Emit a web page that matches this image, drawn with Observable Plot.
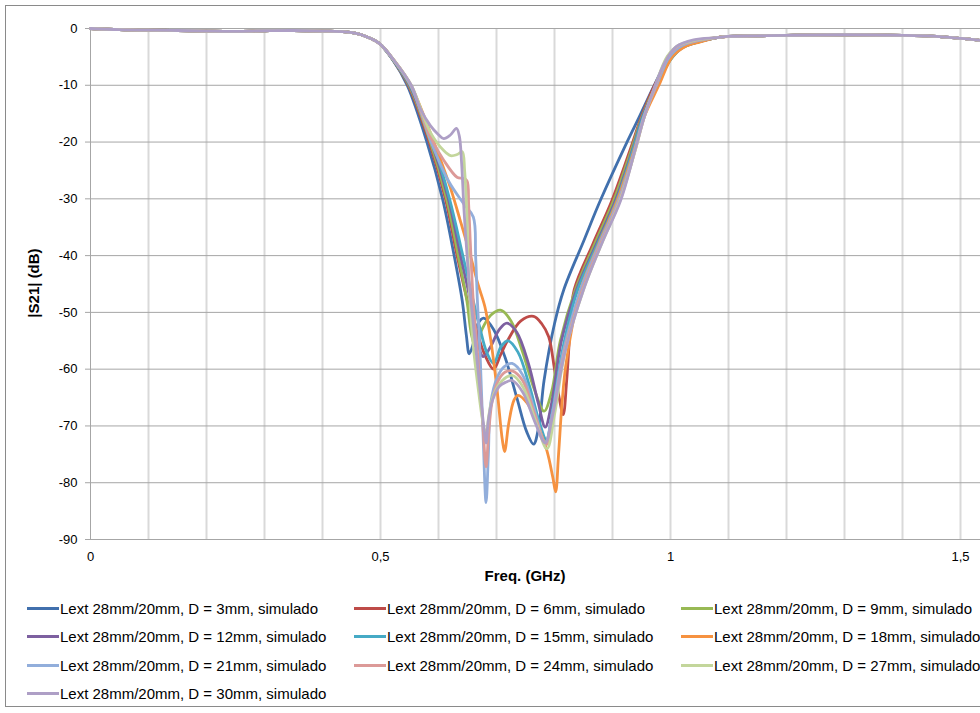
<!DOCTYPE html>
<html>
<head>
<meta charset="utf-8">
<script src="https://cdn.jsdelivr.net/npm/d3@7"></script>
<script src="https://cdn.jsdelivr.net/npm/@observablehq/plot@0.6"></script>
<style>
  html, body { margin: 0; padding: 0; background: #fff; }
  #wrap { position: relative; width: 980px; height: 713px; overflow: hidden; background: #fff;
          font-family: "Liberation Sans", Arial, sans-serif; color: #000; }
  #frame { position: absolute; left: 5px; top: 5px; width: 1200px; height: 702px; border: 1px solid #8a8a8a; box-sizing: border-box; }
  #chart { position: absolute; left: 0; top: 0; }
  .title { position: absolute; font-weight: bold; font-size: 15px; white-space: nowrap; }
  #xtitle { left: 525px; top: 575px; transform: translate(-50%, -50%); }
  #ytitle { left: 33px; top: 283px; transform: translate(-50%, -50%) rotate(-90deg); }
  #legend { position: absolute; left: 27px; top: 594px; display: grid; grid-template-columns: 327px 327px 327px; grid-auto-rows: 28.5px; }
  .item { display: flex; align-items: center; font-size: 15px; white-space: nowrap; }
  .sw { width: 32px; height: 3px; margin-right: 1px; flex: none; }
</style>
</head>
<body>
<div id="wrap">
  <div id="frame"></div>
  <div id="chart"></div>
  <div id="xtitle" class="title">Freq. (GHz)</div>
  <div id="ytitle" class="title">|S21| (dB)</div>
  <div id="legend"></div>
</div>
<script>
// ---- Data ----
const seriesNames = [
  "Lext 28mm/20mm, D = 3mm, simulado",
  "Lext 28mm/20mm, D = 6mm, simulado",
  "Lext 28mm/20mm, D = 9mm, simulado",
  "Lext 28mm/20mm, D = 12mm, simulado",
  "Lext 28mm/20mm, D = 15mm, simulado",
  "Lext 28mm/20mm, D = 18mm, simulado",
  "Lext 28mm/20mm, D = 21mm, simulado",
  "Lext 28mm/20mm, D = 24mm, simulado",
  "Lext 28mm/20mm, D = 27mm, simulado",
  "Lext 28mm/20mm, D = 30mm, simulado"
];
const seriesColors = ["#4170AD", "#BE4B48", "#98B954", "#7D60A0", "#46AAC5", "#F69240",
                      "#92AEDB", "#DC9A98", "#C3D69B", "#AE9FC6"];

const xTickValues = [0, 0.5, 1, 1.5];
const xGridValues = [0.1, 0.2, 0.3, 0.4, 0.5, 0.6, 0.7, 0.8, 0.9, 1.0, 1.1, 1.2, 1.3, 1.4, 1.5];
const yTickValues = [0, -10, -20, -30, -40, -50, -60, -70, -80, -90];
const xDomain = [0, 1.5345];
const yDomain = [-90, 0];

// common pass band below the notch (all series overlap)
const lowF  = [0, 0.05, 0.1, 0.15, 0.2, 0.25, 0.3, 0.35, 0.4, 0.44, 0.46, 0.475, 0.49];
const lowDb = [0, -0.2, -0.3, -0.35, -0.45, -0.5, -0.4, -0.35, -0.45, -0.6, -0.9, -1.4, -2.1];
// common pass band above the notch
const highF  = [1.08, 1.1, 1.15, 1.2, 1.3, 1.4, 1.45, 1.5, 1.535];
const highDb = [-1.6, -1.4, -1.3, -1.2, -1.1, -1.2, -1.35, -1.75, -2.1];

// notch region, per series
const fD3  = [0.5, 0.52, 0.546, 0.58, 0.607, 0.627, 0.641, 0.648, 0.653, 0.66, 0.668, 0.678, 0.695, 0.715, 0.735, 0.752, 0.764, 0.773, 0.782, 0.8, 0.816, 0.85, 0.879, 0.925, 0.946, 0.972, 0.998, 1.02, 1.05];
const dbD3 = [-2.8, -5.3, -10, -20, -30, -40, -48, -54, -57.3, -55.5, -52, -51, -53, -58, -65, -71, -73.2, -70, -62, -52, -46, -37.5, -30.3, -20, -15.6, -10, -5, -3.2, -2.2];

const fD6  = [0.5, 0.52, 0.548, 0.584, 0.612, 0.632, 0.65, 0.665, 0.68, 0.695, 0.707, 0.72, 0.742, 0.764, 0.778, 0.79, 0.8, 0.808, 0.815, 0.821, 0.827, 0.834, 0.866, 0.899, 0.93, 0.95, 0.975, 1.0, 1.02, 1.05];
const dbD6 = [-2.8, -5.3, -10, -20, -30, -40, -48, -53, -57.5, -60, -57.5, -54.8, -51.5, -50.7, -52, -54.3, -60, -65, -68, -62, -53, -46, -38, -30.3, -21.5, -15.5, -9.5, -5.3, -3.4, -2.3];

const fD9  = [0.5, 0.52, 0.549, 0.586, 0.614, 0.634, 0.649, 0.657, 0.664, 0.675, 0.69, 0.707, 0.725, 0.745, 0.765, 0.782, 0.795, 0.81, 0.836, 0.869, 0.902, 0.932, 0.951, 0.976, 1.0, 1.02, 1.05];
const dbD9 = [-2.8, -5.3, -10, -20, -30, -40, -48, -54, -56, -53, -50.5, -49.6, -51.5, -57, -63.5, -67.4, -64, -55, -46, -38, -30.3, -21.5, -15.5, -9.8, -5.5, -3.4, -2.3];

const fD12  = [0.5, 0.52, 0.55, 0.588, 0.617, 0.638, 0.655, 0.665, 0.677, 0.69, 0.705, 0.718, 0.735, 0.755, 0.772, 0.784, 0.795, 0.812, 0.838, 0.872, 0.905, 0.934, 0.952, 0.976, 1.0, 1.02, 1.05];
const dbD12 = [-2.8, -5.3, -10, -20, -30, -40, -48, -54, -57.8, -56, -53, -51.9, -53.5, -59, -66, -70.2, -66, -55, -46, -38, -30.3, -21.5, -15.5, -10, -5.3, -3.3, -2.3];

const fD15  = [0.5, 0.52, 0.551, 0.59, 0.619, 0.642, 0.66, 0.672, 0.683, 0.695, 0.708, 0.72, 0.737, 0.757, 0.773, 0.786, 0.797, 0.815, 0.84, 0.874, 0.907, 0.935, 0.953, 0.977, 1.0, 1.02, 1.05];
const dbD15 = [-2.8, -5.3, -10, -20, -30, -40, -48, -53, -57, -59, -56, -55, -57, -63, -69, -72.4, -67, -56, -46, -38, -30.3, -21.5, -15.5, -10, -5.5, -3.4, -2.3];

const fD18  = [0.5, 0.521, 0.552, 0.592, 0.621, 0.638, 0.655, 0.668, 0.68, 0.69, 0.701, 0.71, 0.714, 0.721, 0.73, 0.737, 0.753, 0.77, 0.787, 0.797, 0.802, 0.807, 0.813, 0.82, 0.845, 0.876, 0.908, 0.937, 0.955, 0.98, 1.003, 1.025, 1.05];
const dbD18 = [-2.8, -5.3, -10, -20, -28.2, -34, -40, -45, -49, -54.8, -63.6, -72.4, -74.5, -69.6, -65.5, -64.6, -66, -69.6, -74.4, -79, -81.6, -75, -66, -59, -46, -38, -30.3, -21.5, -15.5, -10, -5, -3.2, -2.4];

const fD21  = [0.5, 0.521, 0.552, 0.588, 0.618, 0.643, 0.66, 0.664, 0.667, 0.672, 0.677, 0.682, 0.686, 0.69, 0.701, 0.713, 0.727, 0.745, 0.765, 0.784, 0.796, 0.815, 0.845, 0.877, 0.91, 0.938, 0.954, 0.976, 0.998, 1.02, 1.05];
const dbD21 = [-2.8, -5.3, -10, -20.2, -27, -30.8, -33.2, -40, -47.8, -58, -72, -83.5, -75, -66, -61.5, -59.6, -59, -61, -67, -73, -68, -57, -46, -38, -30.3, -21.5, -15.5, -10, -5, -3, -2.1];

const fD24  = [0.5, 0.521, 0.553, 0.586, 0.609, 0.632, 0.642, 0.649, 0.652, 0.655, 0.66, 0.668, 0.676, 0.682, 0.686, 0.692, 0.703, 0.715, 0.727, 0.745, 0.766, 0.786, 0.798, 0.817, 0.848, 0.879, 0.912, 0.939, 0.955, 0.975, 0.995, 1.015, 1.045];
const dbD24 = [-2.8, -5.3, -10, -19.1, -23.2, -26.2, -26.4, -26.8, -31, -38, -48, -58, -69, -77.2, -72, -66, -62, -60.5, -60.3, -62, -68, -73.3, -68, -57, -46, -38, -30.3, -21.5, -15.5, -10, -5, -3, -2.1];

const fD27  = [0.5, 0.521, 0.553, 0.586, 0.609, 0.621, 0.632, 0.641, 0.645, 0.649, 0.653, 0.66, 0.668, 0.676, 0.682, 0.687, 0.695, 0.71, 0.727, 0.745, 0.767, 0.787, 0.8, 0.818, 0.85, 0.881, 0.913, 0.939, 0.955, 0.974, 0.994, 1.013, 1.043];
const dbD27 = [-2.8, -5.3, -10, -18.3, -21.5, -22.4, -22.2, -21.7, -25, -33, -46, -56, -63, -69, -71.5, -68, -64.5, -62, -61.1, -63, -69, -74, -68, -57, -46, -38, -30.3, -21.5, -15.5, -10, -5, -3, -2.05];

const fD30  = [0.5, 0.521, 0.553, 0.569, 0.586, 0.6, 0.609, 0.62, 0.631, 0.636, 0.64, 0.644, 0.65, 0.656, 0.664, 0.672, 0.679, 0.682, 0.686, 0.693, 0.705, 0.716, 0.727, 0.745, 0.767, 0.784, 0.797, 0.818, 0.85, 0.883, 0.914, 0.94, 0.955, 0.972, 0.99, 1.01, 1.04];
const dbD30 = [-2.8, -5.3, -10, -14.2, -17.1, -18.7, -19.4, -18.8, -17.6, -19, -24, -32, -41, -48, -56, -64, -71, -73, -69, -65.5, -63, -62.3, -62, -64, -69.5, -73, -68, -57, -46, -37.5, -30.3, -21, -15.5, -10.5, -6, -3.2, -2.0];

const notchF  = [fD3, fD6, fD9, fD12, fD15, fD18, fD21, fD24, fD27, fD30];
const notchDb = [dbD3, dbD6, dbD9, dbD12, dbD15, dbD18, dbD21, dbD24, dbD27, dbD30];

// ---- build table ----
const rows = [];
seriesNames.forEach((name, i) => {
  lowF.forEach((f, j) => rows.push({f, db: lowDb[j], s: name}));
  notchF[i].forEach((f, j) => rows.push({f, db: notchDb[i][j], s: name}));
  highF.forEach((f, j) => rows.push({f, db: highDb[j], s: name}));
});

const fmtComma = d => String(d).replace(".", ",");

const chart = Plot.plot({
  width: 980,
  height: 590,
  marginLeft: 90,
  marginRight: 0,
  marginTop: 28,
  marginBottom: 51,
  style: {fontFamily: '"Liberation Sans", Arial, sans-serif', fontSize: "13px", color: "#000", background: "transparent"},
  x: {domain: xDomain},
  y: {domain: yDomain},
  color: {domain: seriesNames, range: seriesColors},
  marks: [
    Plot.ruleX(xGridValues, {stroke: "#D9D9D9", strokeWidth: 2}),
    Plot.ruleY(yTickValues, {stroke: "#A6A6A6", strokeWidth: 1}),
    Plot.ruleX([0], {stroke: "#A6A6A6", strokeWidth: 1}),
    Plot.axisY({ticks: yTickValues, tickSize: 5, tickPadding: 8, stroke: "#A6A6A6", tickFormat: d => String(d), label: null}),
    Plot.axisX({ticks: xTickValues, tickSize: 0, tickPadding: 12, tickFormat: fmtComma, label: null}),
    Plot.line(rows, {x: "f", y: "db", z: "s", stroke: "s", curve: "catmull-rom",
                     strokeWidth: 2.8, strokeLinejoin: "round", strokeLinecap: "round"})
  ]
});
document.getElementById("chart").appendChild(chart);

// ---- legend ----
const legend = document.getElementById("legend");
seriesNames.forEach((name, i) => {
  const item = document.createElement("div");
  item.className = "item";
  const sw = document.createElement("span");
  sw.className = "sw";
  sw.style.background = seriesColors[i];
  const t = document.createElement("span");
  t.textContent = name;
  item.appendChild(sw);
  item.appendChild(t);
  legend.appendChild(item);
});
</script>
</body>
</html>
